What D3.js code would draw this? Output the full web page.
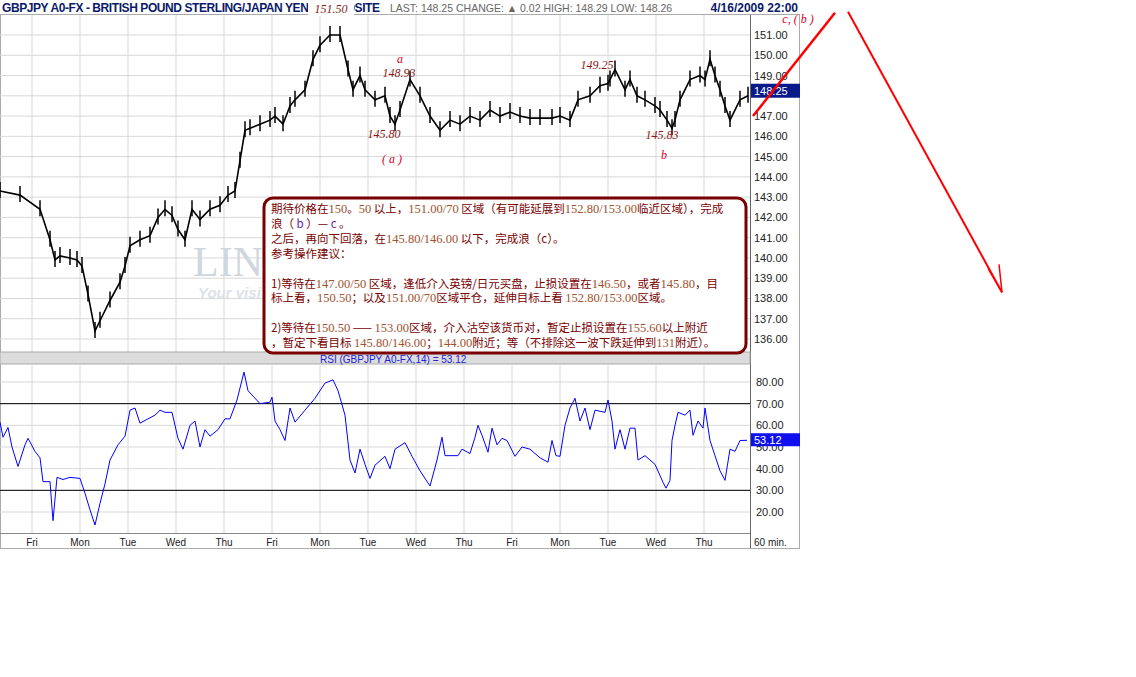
<!DOCTYPE html>
<html><head><meta charset="utf-8">
<script src="https://cdn.jsdelivr.net/npm/d3@7"></script>
<style>body{margin:0;background:#fff}</style>
</head><body>
<script>
// GBPJPY hourly chart with RSI(14)

// time is hours from chart start; first Fri 00:00 is hour 16
var dayNames = ["Fri","Mon","Tue","Wed","Thu","Fri","Mon","Tue","Wed","Thu","Fri","Mon","Tue","Wed","Thu"];
var priceTicks = [136,137,138,139,140,141,142,143,144,145,146,147,149,150,151];
var rsiTicks = [20,30,40,50,60,70,80];

var priceHours = [0,10,20,25,27.5,30,35,38.5,41,44,47.5,50,55,60,62.5,65,70,75,79,82.5,86,89,92.5,96,100,105,110,114,117.5,120,122.5,125,130,135,137.5,141.5,145,147.5,152.5,156.5,160,165,170,174,176.5,180,182.5,187.5,192.5,195,197.5,200,205,210,215,220,225,230,235,240,245,250,255,260,265,270,276,280,285,289,295,300,304,305,307.5,312.5,315,318.5,322.5,327.5,330,333.5,336,337.5,340,345,350,352.5,355,357.5,360,362.5,365,370,374];
var closes = [143.3,143.1,142.4,140.9,139.9,140.1,140.0,139.9,139.6,138.2,136.4,136.9,137.9,138.8,139.6,140.6,140.9,141.1,142.0,142.4,142.1,141.4,140.9,142.4,141.9,142.4,142.6,143.1,143.3,144.8,146.3,146.4,146.6,146.8,147.0,146.6,147.5,147.8,148.3,149.8,150.5,151.0,151.0,149.3,148.3,149.0,148.3,147.8,148.0,147.0,146.6,147.3,148.8,148.0,147.0,146.3,146.8,146.6,147.0,146.8,147.3,147.0,147.2,147.0,146.9,146.9,146.9,147.0,146.8,147.8,148.0,148.5,148.6,148.8,149.3,148.3,148.8,148.0,147.8,147.5,147.3,146.8,146.4,146.8,147.8,148.8,149.0,148.8,149.8,149.0,148.3,147.5,146.8,147.8,148.0,148.25];

var rsiHours = [0,1.5,4,6,9,12.5,14,17.5,20,21.5,25,26.5,28.5,31.5,35,40,42.5,45,47.5,50,52.5,55,59,62.5,65,67.5,70,74,77.5,80,82.5,86,89,91.5,95,97.5,100,102.5,105,109,112.5,115,118.5,122,124,126.5,130,135,136,137.5,140,142.5,145,147.5,152.5,157.5,162.5,166.5,169,172.5,175,177.5,180,182.5,185,187.5,192.5,195,197.5,202.5,206,210,215,218.5,221,222.5,226.5,229,231,235,237.5,239,241,244,246,248.5,251,253.5,257.5,261,265,270,274,276,278,280,282.5,285,287.5,290,292.5,295,297.5,302.5,304,306,307.5,310,312.5,315,317.5,319,322.5,327.5,331.5,333,335,336,337.5,339,342.5,345,346.5,349,351.5,352.5,355,357.5,360,362.5,365,367.5,370,373.5];
var rsi = [61.5,54.5,59,50,41,51,54,48,45,34,34,16,36,35,36,35.5,28.6,21,14,24,33,44,51,55,67,68,61,63,64.7,67,66,66,54,49,60,62,50,58,55,58,63,63,71.7,84.6,76,73.5,70,70.7,73,62,58,53,68,61.5,67,72.5,79.5,81,76,64.7,44,38,49,42,35.5,41.6,45.7,40,49,52,45.7,39,32,44,54.5,46,46,46,49,47,54.5,60,55.4,47.6,58.7,51,54,53,45.7,50,49,45,43,53,46,45.7,60,68,72.5,62,68,58,67,66,71.7,62,49,58,49,58.7,58.7,44,46,42,33.7,31,34.6,53,60,66,64.7,67,55.4,62,58.7,68,53,46,39,34.6,49,48,53,53.1];

// wave projection lines (hour, price)
var waveUp = [[376.5,147.0],[417.5,152.1]];
var waveDown = [[424,152.15],[501,138.3]];

var labels = [
  {h:200,p:149.6,t:"a",c:"#e0002a"},
  {h:199.5,p:148.93,t:"148.93",c:"#8b1a1a"},
  {h:192,p:145.9,t:"145.80",c:"#8b1a1a"},
  {h:196,p:144.7,t:"( a )",c:"#e0002a"},
  {h:298.5,p:149.3,t:"149.25",c:"#8b1a1a"},
  {h:331,p:145.86,t:"145.83",c:"#8b1a1a"},
  {h:332,p:144.9,t:"b",c:"#e0002a"},
  {h:399,p:151.6,t:"c, ( b )",c:"#e0002a"}
];

var boxLines = [
  [["期待价格在",0],["150",1],["。",0],["50",1],[" 以上，",0],["151.00/70",1],[" 区域（有可能延展到",0],["152.80/153.00",1],["临近区域），完成",0]],
  [["浪（",0],[" b ",2],["）— ",0],["c",2],[" 。",0]],
  [["之后，再向下回落，在",0],["145.80/146.00",1],[" 以下，完成浪（c）。",0]],
  [["参考操作建议：",0]],
  [],
  [["1)等待在",0],["147.00/50",1],[" 区域，逢低介入英镑/日元买盘，止损设置在",0],["146.50",1],["，或者",0],["145.80",1],["，目",0]],
  [["标上看，",0],["150.50",1],["；以及",0],["151.00/70",1],["区域平仓，延伸目标上看 ",0],["152.80/153.00",1],["区域。",0]],
  [],
  [["2)等待在",0],["150.50",1],[" —— ",0],["153.00",1],["区域，介入沽空该货币对，暂定止损设置在",0],["155.60",1],["以上附近",0]],
  [["，暂定下看目标 ",0],["145.80/146.00",1],["；",0],["144.00",1],["附近；等（不排除这一波下跌延伸到",0],["131",1],["附近）。",0]]
];

var W = 1136, H = 677;
var svg = d3.select("body").append("svg").attr("width", W).attr("height", H)
  .style("font-family", "Liberation Sans, Arial, sans-serif");

var x = d3.scaleLinear().domain([0, 375]).range([0, 750]);
var y = d3.scaleLinear().domain([136, 151]).range([339, 35]);
var yr = d3.scaleLinear().domain([20, 80]).range([512, 382]);

// frame
svg.append("rect").attr("x", 0.5).attr("y", 14.5).attr("width", 799).attr("height", 534).attr("fill", "#fff").attr("stroke", "#aaa");

// grid
var grid = svg.append("g").attr("stroke", "#d8d8d8");
grid.selectAll(".hp").data(priceTicks.concat([148])).enter().append("line")
  .attr("x1", 0).attr("x2", 750).attr("y1", d => y(d)).attr("y2", d => y(d));
grid.selectAll(".vp").data(dayNames).enter().append("line")
  .attr("x1", (d, i) => x(16 + 24 * i)).attr("x2", (d, i) => x(16 + 24 * i)).attr("y1", 15).attr("y2", 352);
grid.selectAll(".hr").data(rsiTicks).enter().append("line")
  .attr("x1", 0).attr("x2", 750).attr("y1", d => yr(d)).attr("y2", d => yr(d));
grid.selectAll(".vr").data(dayNames).enter().append("line")
  .attr("x1", (d, i) => x(16 + 24 * i)).attr("x2", (d, i) => x(16 + 24 * i)).attr("y1", 365).attr("y2", 533);

// watermark
svg.append("text").attr("x", 193).attr("y", 276).attr("font-family", "Liberation Serif, serif").attr("font-size", 42).attr("fill", "#cfd6de").text("LIN");
svg.append("text").attr("x", 198).attr("y", 298).attr("font-size", 15).attr("font-weight", "bold").attr("font-style", "italic").attr("fill", "#dde2e8").text("Your visi");

// price bars
var pts = priceHours.map((h, i) => [h, closes[i]]);
svg.append("path").datum(pts).attr("fill", "none").attr("stroke", "#000").attr("stroke-width", 1.6)
  .attr("d", d3.line().x(d => x(d[0])).y(d => y(d[1])));
svg.append("g").selectAll("line").data(pts).enter().append("line")
  .attr("x1", d => x(d[0])).attr("x2", d => x(d[0]))
  .attr("y1", d => y(d[1]) - 9).attr("y2", d => y(d[1]) + 7)
  .attr("stroke", "#000").attr("stroke-width", 1.5);

// axes
svg.append("line").attr("x1", 750.5).attr("x2", 750.5).attr("y1", 15).attr("y2", 548).attr("stroke", "#666");
svg.append("g").selectAll("text").data(priceTicks).enter().append("text")
  .attr("x", 754).attr("y", d => y(d) + 4).attr("font-size", 11).attr("fill", "#222")
  .text(d => d.toFixed(2));
svg.append("rect").attr("x", 751).attr("y", y(148.25) - 7).attr("width", 49).attr("height", 14).attr("fill", "#0a1a8a");
svg.append("text").attr("x", 754).attr("y", y(148.25) + 4).attr("font-size", 11).attr("fill", "#fff").text("148.25");

// separator band
svg.append("rect").attr("x", 0).attr("y", 352).attr("width", 750).attr("height", 12).attr("fill", "#dcdcdc").attr("stroke", "#aaa");
svg.append("text").attr("x", 320).attr("y", 363).attr("font-size", 10).attr("fill", "#2222dd").text("RSI (GBPJPY A0-FX,14) = 53.12");

// rsi
svg.append("g").selectAll("line").data([30, 70]).enter().append("line")
  .attr("x1", 0).attr("x2", 750).attr("y1", d => yr(d)).attr("y2", d => yr(d)).attr("stroke", "#000");
svg.append("path").datum(rsiHours.map((h, i) => [h, rsi[i]])).attr("fill", "none").attr("stroke", "#0000ff").attr("stroke-width", 1)
  .attr("d", d3.line().x(d => x(d[0])).y(d => yr(d[1])));
svg.append("g").selectAll("text").data(rsiTicks).enter().append("text")
  .attr("x", 756).attr("y", d => yr(d) + 4).attr("font-size", 11).attr("fill", "#222").text(d => d.toFixed(2));
svg.append("rect").attr("x", 751).attr("y", yr(53.12) - 7).attr("width", 49).attr("height", 13).attr("fill", "#1010ee");
svg.append("text").attr("x", 754).attr("y", yr(53.12) + 4).attr("font-size", 11).attr("fill", "#fff").text("53.12");

// day labels
svg.append("line").attr("x1", 0).attr("x2", 750).attr("y1", 533.5).attr("y2", 533.5).attr("stroke", "#888");
svg.append("g").selectAll("text").data(dayNames).enter().append("text")
  .attr("x", (d, i) => x(16 + 24 * i)).attr("y", 546).attr("text-anchor", "middle").attr("font-size", 10).attr("fill", "#222").text(d => d);
svg.append("text").attr("x", 754).attr("y", 546).attr("font-size", 10).attr("fill", "#222").text("60 min.");

// header
svg.append("rect").attr("x", 0).attr("y", 0).attr("width", 800).attr("height", 14).attr("fill", "#fff");
svg.append("text").attr("x", 2).attr("y", 12).attr("font-size", 12).attr("font-weight", "bold").attr("fill", "#0a1a6a")
  .attr("textLength", 378).text("GBPJPY A0-FX - BRITISH POUND STERLING/JAPAN YEN COMPOSITE");
svg.append("text").attr("x", 390).attr("y", 12).attr("font-size", 10.5).attr("fill", "#666")
  .text("LAST: 148.25   CHANGE: ▲ 0.02   HIGH: 148.29   LOW: 148.26");
svg.append("text").attr("x", 798).attr("y", 12).attr("text-anchor", "end").attr("font-size", 12).attr("font-weight", "bold").attr("fill", "#0a1a6a").text("4/16/2009 22:00");
svg.append("rect").attr("x", 308).attr("y", 0).attr("width", 46).attr("height", 16).attr("fill", "#fff");
svg.append("text").attr("x", 331).attr("y", 13).attr("text-anchor", "middle").attr("font-family", "Liberation Serif, serif")
  .attr("font-style", "italic").attr("font-size", 12).attr("fill", "#8b1a1a").text("151.50");

// wave labels
svg.append("g").selectAll("text").data(labels).enter().append("text")
  .attr("x", d => x(d.h)).attr("y", d => y(d.p)).attr("text-anchor", "middle")
  .attr("font-family", "Liberation Serif, serif").attr("font-style", "italic").attr("font-size", 12)
  .attr("fill", d => d.c).text(d => d.t);

// projection lines
var pline = d3.line().x(d => x(d[0])).y(d => y(d[1]));
svg.append("path").datum(waveUp).attr("d", pline).attr("stroke", "#ff0000").attr("stroke-width", 2.5).attr("fill", "none");
svg.append("path").datum(waveDown).attr("d", pline).attr("stroke", "#ff0000").attr("stroke-width", 2).attr("fill", "none");
var tip = waveDown[1];
svg.append("path").attr("d", "M" + (x(tip[0]) - 14) + "," + (y(tip[1]) - 24) + "L" + x(tip[0]) + "," + y(tip[1]) + "L" + (x(tip[0]) - 3) + "," + (y(tip[1]) - 28))
  .attr("stroke", "#ff0000").attr("stroke-width", 1.5).attr("fill", "none");

// comment box
svg.append("rect").attr("x", 264).attr("y", 198).attr("width", 482).attr("height", 155).attr("rx", 9)
  .attr("fill", "#fff").attr("stroke", "#7a0000").attr("stroke-width", 3);
var cols = ["#7a0000", "#a0522d", "#6a1aaa"];
var tx = svg.append("g").attr("font-family", "Noto Sans CJK SC, sans-serif").attr("font-size", 11.5);
boxLines.forEach(function(line, i) {
  var t = tx.append("text").attr("x", 271).attr("y", 213 + i * 14.9);
  line.forEach(function(seg) {
    t.append("tspan").attr("fill", cols[seg[1]])
      .attr("font-family", seg[1] == 1 ? "Liberation Serif, serif" : null)
      .attr("font-size", seg[1] == 1 ? 12.5 : null).text(seg[0]);
  });
});
</script>
</body></html>
